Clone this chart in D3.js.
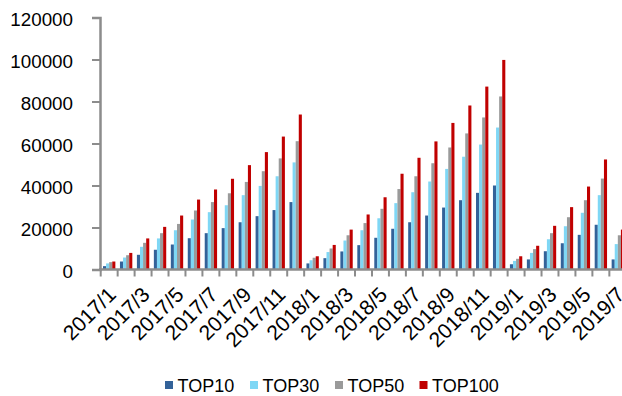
<!DOCTYPE html>
<html>
<head>
<meta charset="utf-8">
<script src="https://cdn.jsdelivr.net/npm/d3@7"></script>
<style>
  html, body { margin: 0; padding: 0; background: #ffffff; }
  svg { display: block; }
  text { font-family: "Liberation Sans", Arial, sans-serif; fill: #000; }
</style>
</head>
<body>
<svg id="chart" width="622" height="396"></svg>
<script>
// Monthly categories 2017/1 .. 2019/7
const months = [
  "2017/1","2017/2","2017/3","2017/4","2017/5","2017/6","2017/7","2017/8","2017/9","2017/10","2017/11","2017/12",
  "2018/1","2018/2","2018/3","2018/4","2018/5","2018/6","2018/7","2018/8","2018/9","2018/10","2018/11","2018/12",
  "2019/1","2019/2","2019/3","2019/4","2019/5","2019/6","2019/7"
];

const seriesNames = ["TOP10", "TOP30", "TOP50", "TOP100"];

const top10 = [1600, 3800, 7000, 9400, 11900, 14900, 17300, 19700, 22500, 25400, 28300, 32100,
               2900, 5400, 8600, 11600, 15100, 19400, 22500, 25700, 29500, 33000, 36500, 40000,
               2500, 4800, 8700, 12500, 16500, 21300, 4800];
const top30 = [2900, 5700, 10800, 14800, 18700, 23800, 27300, 30600, 35400, 39800, 44400, 51000,
               4400, 8300, 13800, 18700, 24400, 31600, 36800, 41900, 47900, 53700, 59500, 67600,
               4100, 7900, 14400, 20600, 27000, 35400, 12100];
const top50 = [3500, 6800, 12700, 17300, 21700, 28100, 32100, 36300, 41700, 46800, 52900, 61100,
               5600, 10000, 16300, 22100, 28900, 38300, 44400, 50600, 58100, 64800, 72400, 82400,
               5100, 9700, 17300, 24900, 33000, 43300, 16300];
const top100 = [3800, 7900, 14800, 20300, 25700, 33300, 38100, 43200, 49700, 55900, 63300, 73800,
                6300, 11700, 19000, 26200, 34400, 45600, 53200, 61000, 69800, 78100, 87100, 99800,
                6300, 11300, 20800, 29700, 39500, 52400, 19000];

const yTicks = [0, 20000, 40000, 60000, 80000, 100000, 120000];
const colors = ["#336299", "#7fd7f5", "#9a9a9a", "#c00000"];

const seriesValues = [top10, top30, top50, top100];
const rows = months.map((m, i) => ({
  month: m,
  values: seriesNames.map((s, k) => ({ key: s, value: seriesValues[k][i] }))
}));

const svg = d3.select("#chart");
const axisColor = "#8c8c8c";

const x0 = d3.scaleBand().domain(months).range([100.7, 626.3]).paddingInner(0).paddingOuter(0);
const bw = x0.bandwidth();
const x1 = d3.scaleBand().domain(seriesNames).range([2.3, bw - 2.3]).padding(0);
const y = d3.scaleLinear().domain([0, 120000]).range([269.5, 17.5]);
const color = d3.scaleOrdinal().domain(seriesNames).range(colors);

// bars
const groups = svg.append("g").selectAll("g")
  .data(rows).join("g")
  .attr("transform", d => `translate(${x0(d.month)},0)`);

groups.selectAll("rect")
  .data(d => d.values).join("rect")
  .attr("x", d => x1(d.key))
  .attr("width", x1.bandwidth())
  .attr("y", d => y(d.value))
  .attr("height", d => y(0) - y(d.value))
  .attr("fill", d => color(d.key));

// y axis
const yAxis = d3.axisLeft(y).tickValues(yTicks).tickSize(8).tickPadding(19)
  .tickFormat(d3.format("d"));
const gy = svg.append("g").attr("transform", "translate(100,0)").call(yAxis);
gy.select(".domain").attr("stroke", axisColor).attr("stroke-width", 2.5);
gy.selectAll(".tick line").attr("stroke", axisColor).attr("stroke-width", 2);
gy.selectAll(".tick text")
  .attr("font-size", 18.8)
  .attr("font-family", "'Liberation Sans', Arial, sans-serif")
  .attr("fill", "#000")
  .attr("dy", "0.45em");

// x axis line and boundary ticks
const gx = svg.append("g");
const bounds = months.map(m => x0(m)).concat([x0.range()[1]]);
gx.append("line")
  .attr("x1", 99).attr("x2", 622)
  .attr("y1", y(0)).attr("y2", y(0))
  .attr("stroke", axisColor).attr("stroke-width", 2.5);
gx.selectAll("line.tk").data(bounds).join("line")
  .attr("class", "tk")
  .attr("x1", d => d).attr("x2", d => d)
  .attr("y1", y(0)).attr("y2", y(0) + 7)
  .attr("stroke", axisColor).attr("stroke-width", 2);

// rotated month labels on every other month
const labelMonths = months.filter((m, i) => i % 2 === 0);
gx.selectAll("text").data(labelMonths).join("text")
  .attr("transform", d => `translate(${x0(d) + bw / 2 + 8},296) rotate(-45)`)
  .attr("text-anchor", "end")
  .attr("font-size", 21)
  .text(d => d);

// legend
const legendX = [165, 250, 335, 419.5];
const legend = svg.append("g");
const li = legend.selectAll("g").data(seriesNames).join("g")
  .attr("transform", (d, i) => `translate(${legendX[i]},381)`);
li.append("rect").attr("width", 8).attr("height", 8).attr("fill", d => color(d));
li.append("text")
  .attr("x", 12.5).attr("y", 10.5)
  .attr("font-size", 18)
  .text(d => d);
</script>
</body>
</html>
